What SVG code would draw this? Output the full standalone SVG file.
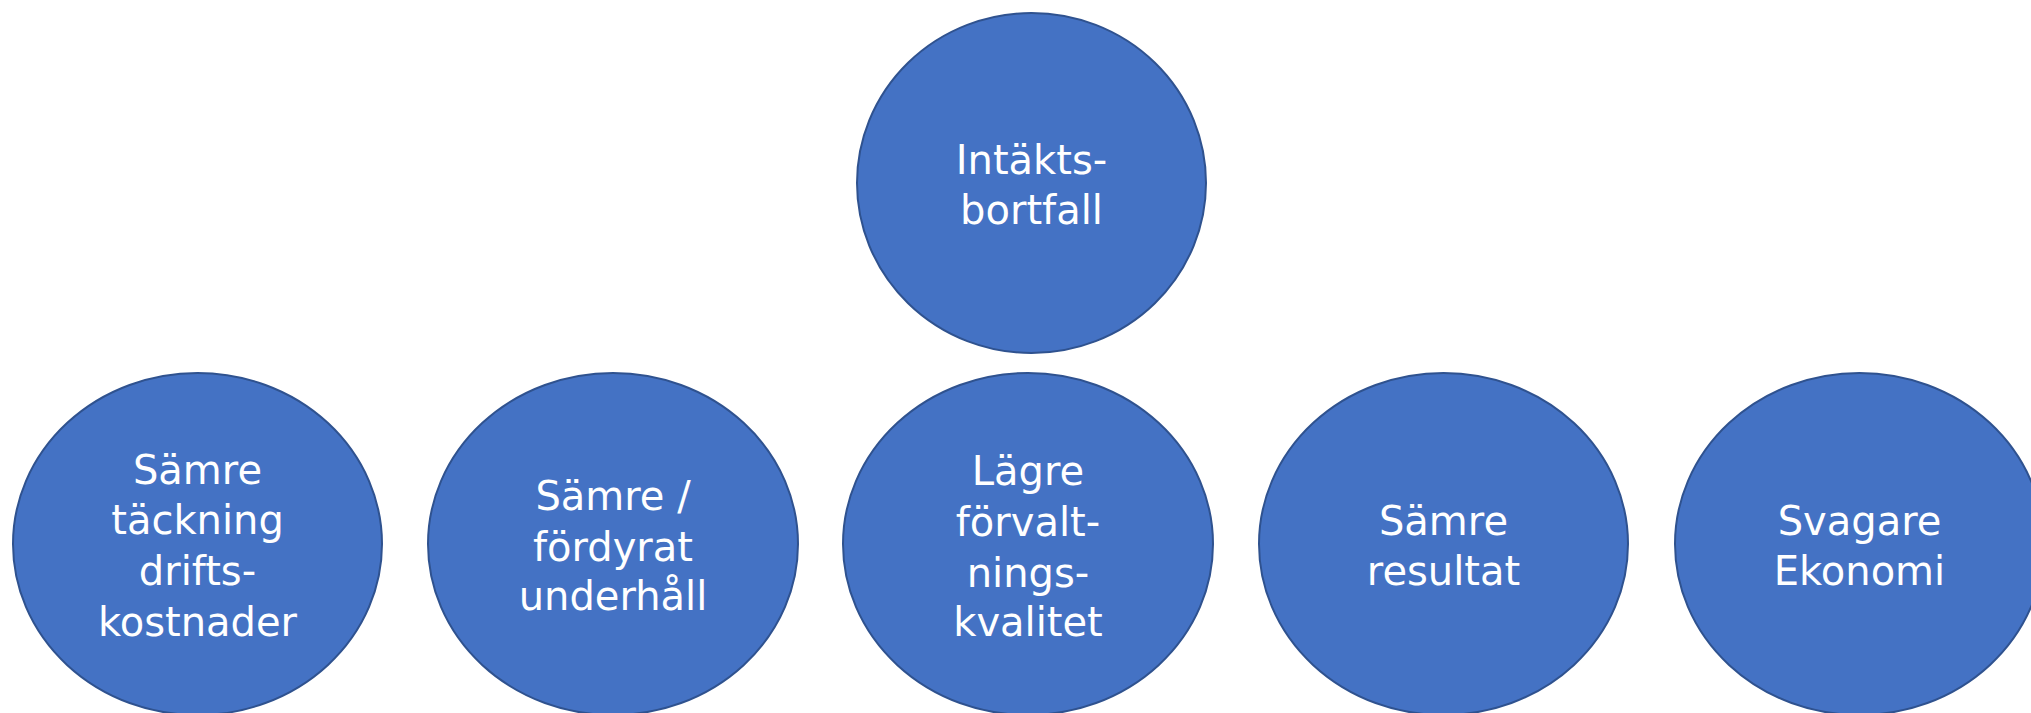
<svg xmlns="http://www.w3.org/2000/svg" width="2031" height="713" viewBox="0 0 2031 713">
<style>
.n{fill:#4472C4;stroke:#2F528F;stroke-width:2}
.t{fill:#FFFFFF;font-family:"DejaVu Sans","Open Sans",sans-serif;font-size:40px;text-anchor:middle}
</style>
<rect width="2031" height="713" fill="#FFFFFF"/>
<g id="connectors"></g>
<g id="n-intakt">
<ellipse class="n" cx="1031.5" cy="183" rx="174.5" ry="170"/>
<text class="t" x="1031.5" y="174">Intäkts-</text>
<text class="t" x="1031.5" y="224">bortfall</text>
</g>
<g id="n-tackning">
<ellipse class="n" cx="197.5" cy="544" rx="184.5" ry="171"/>
<text class="t" x="197.5" y="484">Sämre</text>
<text class="t" x="197.5" y="534">täckning</text>
<text class="t" x="197.5" y="585">drifts-</text>
<text class="t" x="197.5" y="636">kostnader</text>
</g>
<g id="n-underhall">
<ellipse class="n" cx="613" cy="544" rx="185" ry="171"/>
<text class="t" x="613" y="510">Sämre /</text>
<text class="t" x="613" y="561">fördyrat</text>
<text class="t" x="613" y="610">underhåll</text>
</g>
<g id="n-forvaltning">
<ellipse class="n" cx="1028" cy="544" rx="185" ry="171"/>
<text class="t" x="1028" y="485">Lägre</text>
<text class="t" x="1028" y="536">förvalt-</text>
<text class="t" x="1028" y="587">nings-</text>
<text class="t" x="1028" y="636">kvalitet</text>
</g>
<g id="n-resultat">
<ellipse class="n" cx="1443.5" cy="544" rx="184.5" ry="171"/>
<text class="t" x="1443.5" y="535">Sämre</text>
<text class="t" x="1443.5" y="585">resultat</text>
</g>
<g id="n-ekonomi">
<ellipse class="n" cx="1859.5" cy="544" rx="184.5" ry="171"/>
<text class="t" x="1859.5" y="535">Svagare</text>
<text class="t" x="1859.5" y="585">Ekonomi</text>
</g>
</svg>
